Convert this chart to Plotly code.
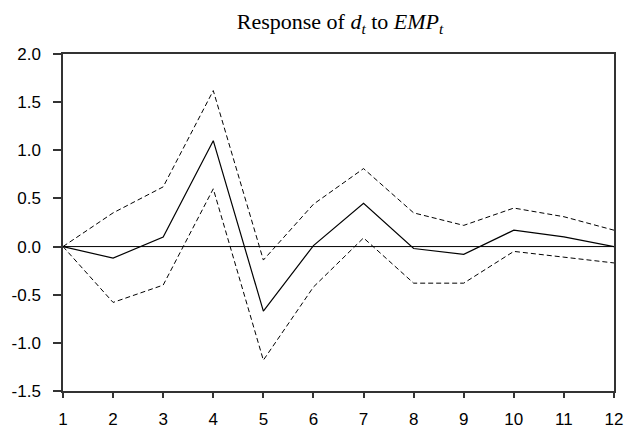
import plotly.graph_objects as go

# Impulse response horizon and estimates
periods = list(range(1, 13))
response = [0.0, -0.12, 0.10, 1.10, -0.67, 0.01, 0.45, -0.02, -0.08, 0.17, 0.10, 0.0]
upper_band = [0.0, 0.35, 0.62, 1.62, -0.14, 0.44, 0.81, 0.35, 0.22, 0.40, 0.31, 0.17]
lower_band = [0.0, -0.58, -0.40, 0.60, -1.18, -0.42, 0.09, -0.38, -0.38, -0.05, -0.11, -0.17]

y_ticks = [2.0, 1.5, 1.0, 0.5, 0.0, -0.5, -1.0, -1.5]
y_tick_text = ["2.0", "1.5", "1.0", "0.5", "0.0", "-0.5", "-1.0", "-1.5"]

fig = go.Figure()

# zero reference line
fig.add_trace(go.Scatter(x=[periods[0], periods[-1]], y=[0, 0], mode="lines",
                         line=dict(color="black", width=1), hoverinfo="skip"))

fig.add_trace(go.Scatter(x=periods, y=upper_band, mode="lines",
                         line=dict(color="black", width=1, dash="5px,3px")))
fig.add_trace(go.Scatter(x=periods, y=lower_band, mode="lines",
                         line=dict(color="black", width=1, dash="5px,3px")))
fig.add_trace(go.Scatter(x=periods, y=response, mode="lines",
                         line=dict(color="black", width=1.2)))

fig.update_layout(
    width=624, height=428,
    margin=dict(l=63, r=10, t=54, b=37),
    paper_bgcolor="white", plot_bgcolor="white",
    showlegend=False,
    title=dict(
        text="Response of <i>d<sub>t</sub></i> to <i>EMP<sub>t</sub></i>",
        x=0.545, xanchor="center", y=0.95, yanchor="middle",
        font=dict(family="Liberation Serif", size=22, color="black"),
    ),
    font=dict(family="Liberation Sans", size=17, color="black"),
)

fig.update_xaxes(
    range=[1, 12], tickvals=periods, ticktext=[str(p) for p in periods],
    showgrid=False, zeroline=False, automargin=False,
    showline=True, linecolor="#333333", linewidth=1.5, mirror=True,
    ticks="outside", ticklen=5, tickcolor="#333333", tickwidth=1.5,
    ticklabelstandoff=7,
)
fig.update_yaxes(
    range=[-1.5, 2.0], tickvals=y_ticks, ticktext=y_tick_text,
    showgrid=False, zeroline=False, automargin=False,
    showline=True, linecolor="#333333", linewidth=1.5, mirror=True,
    ticks="outside", ticklen=8, tickcolor="#333333", tickwidth=1.5,
    ticklabelstandoff=9,
)

fig.write_html("out.html")
